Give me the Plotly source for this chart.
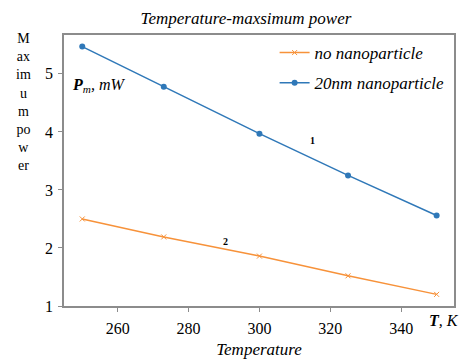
import plotly.graph_objects as go

temps = [250, 273, 300, 325, 350]
no_nano = [2.50, 2.19, 1.86, 1.52, 1.20]
nano20 = [5.47, 4.78, 3.97, 3.25, 2.56]
x_ticks = [260, 280, 300, 320, 340]
y_ticks = [1, 2, 3, 4, 5]
ylabel_parts = ["M", "ax", "im", "u", "m", "po", "w", "er"]

SERIF = "Liberation Serif, Times New Roman, DejaVu Serif, serif"
BLUE = "#2f78b8"
ORANGE = "#f7923a"
AX = "#8c8c8c"

fig = go.Figure()
fig.add_trace(go.Scatter(x=temps, y=no_nano, mode="lines+markers", name="no nanoparticle",
                         legendgroup="a",
                         line=dict(color=ORANGE, width=1.5),
                         marker=dict(symbol="x-thin", size=5, color=ORANGE, line=dict(color=ORANGE, width=1))))
fig.add_trace(go.Scatter(x=temps, y=nano20, mode="lines+markers", name="20nm nanoparticle",
                         legendgroup="b",
                         line=dict(color=BLUE, width=1.5),
                         marker=dict(symbol="circle", size=6, color=BLUE)))

fig.update_layout(
    width=476, height=362,
    margin=dict(l=56, r=30, t=27, b=64, autoexpand=False),
    paper_bgcolor="white", plot_bgcolor="white",
    font=dict(family=SERIF, size=15, color="black"),
    title=dict(text="Temperature-maxsimum power", x=0.5, xanchor="center", y=0.972, yanchor="middle",
               font=dict(family=SERIF, size=17, style="italic")),
    legend=dict(x=0.54, y=1.0, xanchor="left", yanchor="top", bgcolor="rgba(255,255,255,0)",
                font=dict(family=SERIF, size=17, style="italic"), tracegroupgap=5, itemwidth=30),
    showlegend=True,
)
fig.update_xaxes(range=[244.85, 354.9], tickvals=x_ticks, showgrid=False, zeroline=False, automargin=False,
                 showline=True, linecolor=AX, linewidth=1.5, mirror=True,
                 ticks="outside", ticklen=4, tickcolor=AX, ticklabelstandoff=3,
                 tickfont=dict(family=SERIF, size=16),
                 title=dict(text="Temperature", font=dict(family=SERIF, size=17, style="italic"), standoff=7))
fig.update_yaxes(range=[1, 5.67], tickvals=y_ticks, showgrid=False, zeroline=False, automargin=False,
                 showline=True, linecolor=AX, linewidth=1.5, mirror=True,
                 ticks="outside", ticklen=4, tickcolor=AX, ticklabelstandoff=2,
                 tickfont=dict(family=SERIF, size=16))

fig.add_annotation(xref="paper", yref="paper", x=-0.103, y=(298 - 21) / 271,
                   xanchor="center", yanchor="top", text="<br>".join(ylabel_parts), showarrow=False,
                   align="center", font=dict(family=SERIF, size=14))
fig.add_annotation(xref="paper", yref="paper", x=0.015, y=0.815, xanchor="left", yanchor="middle",
                   text="<b><i>P</i></b><sub><i>m</i></sub><i>, mW</i>", showarrow=False,
                   font=dict(family=SERIF, size=16))
fig.add_annotation(xref="paper", yref="paper", x=0.93, y=-0.055, xanchor="left", yanchor="middle",
                   text="<b><i>T</i></b><i>, K</i>", showarrow=False,
                   font=dict(family=SERIF, size=16))
fig.add_annotation(x=315, y=3.85, text="<b>1</b>", showarrow=False, font=dict(family=SERIF, size=10))
fig.add_annotation(x=290.5, y=2.12, text="<b>2</b>", showarrow=False, font=dict(family=SERIF, size=10))

fig.write_html("out.html")
